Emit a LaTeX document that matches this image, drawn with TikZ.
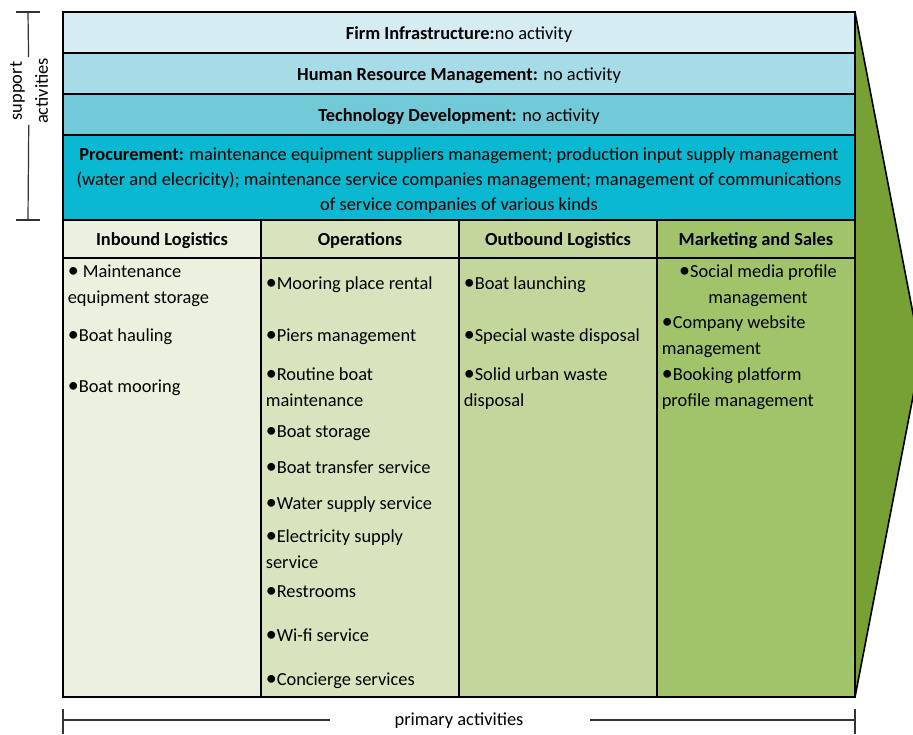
\documentclass[tikz,border=0pt]{standalone}
\usepackage{fontspec}
\setmainfont{Carlito}
\usetikzlibrary{positioning}

\definecolor{firmcol}{HTML}{D4ECF2}
\definecolor{hrmcol}{HTML}{A5DCE7}
\definecolor{techcol}{HTML}{72C9D8}
\definecolor{proccol}{HTML}{0BB8D1}
\definecolor{inbcol}{HTML}{EBF1DE}
\definecolor{opscol}{HTML}{D7E4BD}
\definecolor{outcol}{HTML}{C3D69B}
\definecolor{mktcol}{HTML}{A1C46A}
\definecolor{arrowcol}{HTML}{77A134}

\newcommand{\bul}{{\fontsize{11pt}{13pt}\selectfont\textbullet}}

\tikzset{
  txt/.style={font=\fontsize{9.2pt}{13pt}\selectfont, inner sep=0pt},
  head/.style={txt, anchor=base, font=\fontsize{9.2pt}{13pt}\selectfont\bfseries},
  item/.style={txt, anchor=base west, align=left},
  bracket/.style={line width=0.6pt, draw=black!80},
}

\begin{document}
\begin{tikzpicture}[x=0.5pt,y=-0.5pt,line width=0.8pt]
\clip (0,0) rectangle (913,734);
% arrow head of the chain
\filldraw[fill=arrowcol] (855,12) -- (921,355) -- (855,697) -- cycle;
% support rows
\foreach \c/\a/\b in {firmcol/12/53,hrmcol/53/94,techcol/94/135,proccol/135/220}
        \filldraw[fill=\c] (63,\a) rectangle (855,\b);
% primary columns
\foreach \c/\a in {inbcol/63,opscol/261,outcol/459,mktcol/657}
        \filldraw[fill=\c] (\a,220) rectangle ++(198,477);
\draw (63,258) -- (855,258);

\node[txt,anchor=base] (firm) at (459,39) {\textbf{Firm Infrastructure:}no activity};
\node[txt,anchor=base] (hrm) at (459,80) {\textbf{Human Resource Management:} no activity};
\node[txt,anchor=base] (tech) at (459,121) {\textbf{Technology Development:} no activity};
\node[txt,align=center,font=\fontsize{9.2pt}{12.5pt}\selectfont] (proc) at (459,181)
        {\textbf{Procurement:} maintenance equipment suppliers management; production input supply management\\
        (water and elecricity); maintenance service companies management; management of communications\\
        of service companies of various kinds};

\foreach \n/\x/\t in {inb/162/Inbound Logistics,ops/360/Operations,outb/558/Outbound Logistics,mkt/756/Marketing and Sales}
        \node[head] (\n) at (\x,245) {\t};

% inbound logistics (base = last line)
\node[item] (inb1) at (67,303) {\bul{} Maintenance\\equipment storage};
\node[item] (inb2) at (67,341) {\bul Boat hauling};
\node[item] (inb3) at (67,392) {\bul Boat mooring};
% operations
\node[item] (ops1) at (265,289) {\bul Mooring place rental};
\node[item] (ops2) at (265,341) {\bul Piers management};
\node[item] (ops3) at (265,406) {\bul Routine boat\\maintenance};
\node[item] (ops4) at (265,437) {\bul Boat storage};
\node[item] (ops5) at (265,473) {\bul Boat transfer service};
\node[item] (ops6) at (265,509) {\bul Water supply service};
\node[item] (ops7) at (265,568) {\bul Electricity supply\\service};
\node[item] (ops8) at (265,597) {\bul Restrooms};
\node[item] (ops9) at (265,641) {\bul Wi-fi service};
\node[item] (ops10) at (265,685) {\bul Concierge services};
% outbound logistics
\node[item] (outb1) at (463,289) {\bul Boat launching};
\node[item] (outb2) at (463,341) {\bul Special waste disposal};
\node[item] (outb3) at (463,406) {\bul Solid urban waste\\disposal};
% marketing and sales
\node[item,anchor=base,align=center] (mkt1) at (758,303) {\bul Social media profile\\management};
\node[item] (mkt2) at (661,354) {\bul Company website\\management};
\node[item] (mkt3) at (661,406) {\bul Booking platform\\profile management};

% support activities bracket
\node[txt,rotate=90,align=center] (supp) at (29,91) {support\\activities};
\coordinate (st) at (28,12);
\coordinate (sb) at (28,220);
\draw[bracket] (supp) -- (st) (supp) -- (sb);
\draw[bracket] (16,12) -- (40,12) (16,220) -- (40,220);

% primary activities bracket
\node[txt] (prim) at (459,721) {primary activities};
\coordinate (pl) at (63,720);
\coordinate (pr) at (855,720);
\coordinate (pgl) at (330,720);
\coordinate (pgr) at (590,720);
\draw[bracket] (pl) -- (pgl) (pgr) -- (pr);
\draw[bracket] (63,709) -- (63,734) (855,709) -- (855,734);
\end{tikzpicture}
\end{document}
